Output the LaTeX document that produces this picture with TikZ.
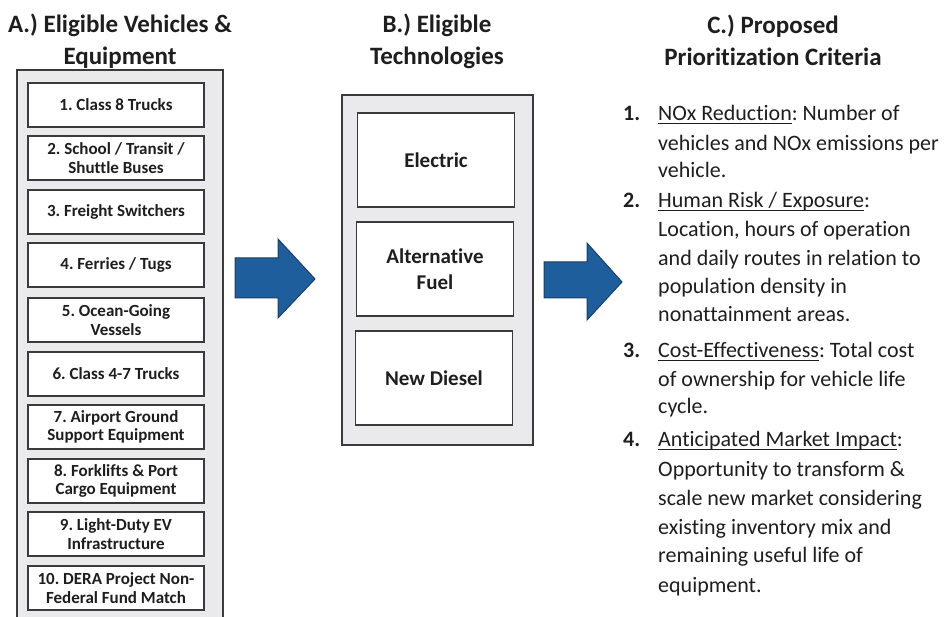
\documentclass[tikz,border=0pt]{standalone}
\usepackage{fontspec}
\setmainfont{Carlito}[RawFeature={-liga;-clig;-calt;-dlig}]
\definecolor{arrowblue}{HTML}{1F5E9C}
\definecolor{arrowedge}{HTML}{1B3F66}
\definecolor{panelgray}{HTML}{EAEAEC}
\definecolor{boxedge}{HTML}{3A3A3A}
\definecolor{txt}{HTML}{1E1E1E}
\newcommand\myul[1]{\setbox0\hbox{#1}\rlap{\rule[-2.6pt]{\wd0}{0.9pt}}\box0}
\frenchspacing
\begin{document}
\begin{tikzpicture}[x=1pt,y=-1pt,
  panel/.style={draw=boxedge, line width=1.3pt, fill=panelgray},
  vbox/.style={draw=boxedge, line width=1.2pt, fill=white, minimum width=176pt, minimum height=44pt,
    inner sep=0pt, align=center, font=\fontsize{17}{18.5}\selectfont\bfseries, text=txt},
  tbox/.style={draw=boxedge, line width=1.2pt, fill=white, minimum width=157pt, minimum height=94pt,
    inner sep=0pt, align=center, font=\fontsize{21}{26}\selectfont\bfseries, text=txt},
  title/.style={anchor=base, font=\fontsize{25}{30}\selectfont\bfseries, text=txt, inner sep=0pt},
  crit/.style={anchor=base west, font=\fontsize{22}{26}\selectfont, text=txt, inner sep=0pt},
  critnum/.style={anchor=base west, font=\fontsize{22}{26}\selectfont\bfseries, text=txt, inner sep=0pt},
  bigarrow/.style={draw=arrowedge, fill=arrowblue, line width=1pt, line join=miter}]
\path[use as bounding box] (0,0) rectangle (946,617);
\clip (0,0) rectangle (946,617);
\fill[white] (0,0) rectangle (946,617);

% titles
\node[title] (ta1) at (120,33) {A.) Eligible Vehicles \&};
\node[title] (ta2) at (120,65) {Equipment};
\node[title] (tb1) at (437,33) {B.) Eligible};
\node[title] (tb2) at (437,65) {Technologies};
\node[title] (tc1) at (773,34) {C.) Proposed};
\node[title] (tc2) at (773,66) {Prioritization Criteria};

% panel A
\path[panel] (17,70) rectangle (223,640);
\node[vbox] (a1) at (116,105) {1. Class 8 Trucks};
\node[vbox] (a2) at (116,158) {2. School / Transit /\\Shuttle Buses};
\node[vbox] (a3) at (116,212) {3. Freight Switchers};
\node[vbox] (a4) at (116,265) {4. Ferries / Tugs};
\node[vbox] (a5) at (116,320) {5. Ocean-Going\\Vessels};
\node[vbox] (a6) at (116,374) {6. Class 4-7 Trucks};
\node[vbox] (a7) at (116,427) {7. Airport Ground\\Support Equipment};
\node[vbox] (a8) at (116,481) {8. Forklifts \& Port\\Cargo Equipment};
\node[vbox] (a9) at (116,534) {9. Light-Duty EV\\Infrastructure};
\node[vbox] (a10) at (116,588) {10. DERA Project Non-\\Federal Fund Match};

% block arrows
\draw[bigarrow] (235,258) -- (278,258) -- (278,239) -- (315,279) -- (278,318) -- (278,298) -- (235,298) -- cycle;
\draw[bigarrow] (544,262) -- (587,262) -- (587,243) -- (622,282) -- (587,320) -- (587,298) -- (544,298) -- cycle;

% panel B
\path[panel] (342,95) rectangle (533,445);
\node[tbox] (b1) at (436,160) {Electric};
\node[tbox] (b2) at (435,269) {Alternative\\Fuel};
\node[tbox] (b3) at (434,378) {New Diesel};

% criteria
\node[critnum] (n1) at (623,121) {1.};
\node[crit] (l1) at (658,121) {\myul{NOx Reduction}: Number of};
\node[crit] (l2) at (658,151) {vehicles and NOx emissions per};
\node[crit] (l3) at (658,178) {vehicle.};
\node[critnum] (n2) at (623,208) {2.};
\node[crit] (l4) at (658,208) {\myul{Human Risk / Exposure}:};
\node[crit] (l5) at (658,237) {Location, hours of operation};
\node[crit] (l6) at (658,266) {and daily routes in relation to};
\node[crit] (l7) at (658,294) {population density in};
\node[crit] (l8) at (658,322) {nonattainment areas.};
\node[critnum] (n3) at (623,358) {3.};
\node[crit] (l9) at (658,358) {\myul{Cost-Effectiveness}: Total cost};
\node[crit] (l10) at (658,387) {of ownership for vehicle life};
\node[crit] (l11) at (658,414) {cycle.};
\node[critnum] (n4) at (623,447) {4.};
\node[crit] (l12) at (658,447) {\myul{Anticipated Market Impact}:};
\node[crit] (l13) at (658,477) {Opportunity to transform \&};
\node[crit] (l14) at (658,506) {scale new market considering};
\node[crit] (l15) at (658,535) {existing inventory mix and};
\node[crit] (l16) at (658,563) {remaining useful life of};
\node[crit] (l17) at (658,592) {equipment.};
\end{tikzpicture}
\end{document}
